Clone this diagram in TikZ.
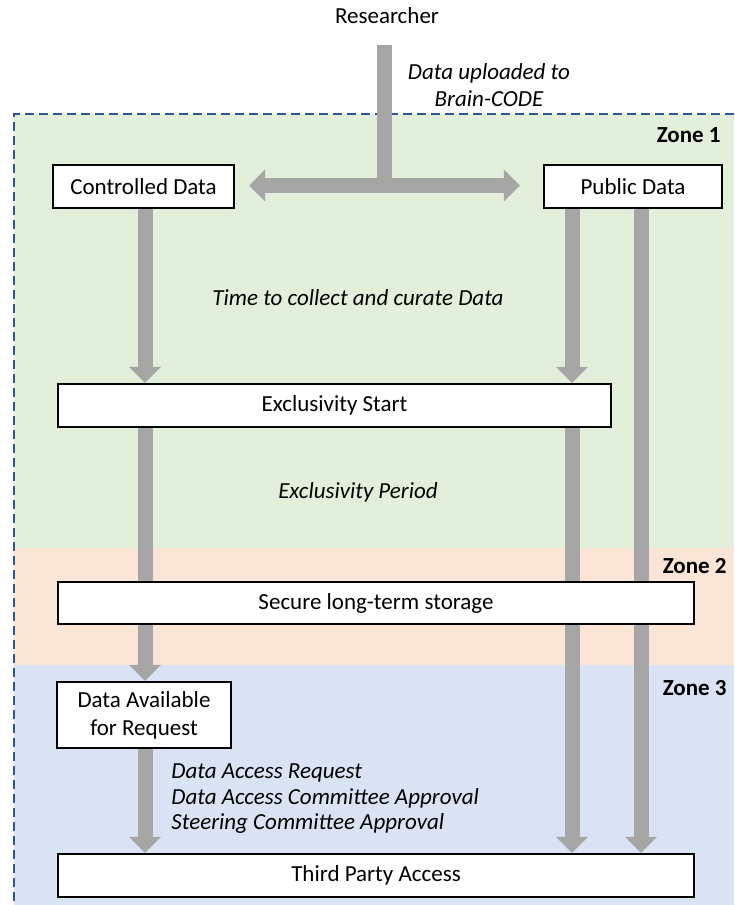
\documentclass[tikz,border=0pt]{standalone}
\usepackage{fontspec}
\setmainfont{Carlito}
\usepackage{xcolor}
\usepackage{tikz}
\usetikzlibrary{arrows.meta}

\definecolor{zoneone}{HTML}{E2EFDA}
\definecolor{zonetwo}{HTML}{FBE5D6}
\definecolor{zonethree}{HTML}{DAE3F3}
\definecolor{arrowgray}{HTML}{A6A6A6}
\definecolor{zoneborder}{HTML}{2F5597}
\newcommand{\diagsize}{\fontsize{11.5}{12.75}\selectfont}
\pgfdeclarelayer{back}
\pgfsetlayers{back,main}

\begin{document}
\begin{tikzpicture}[x=0.5pt, y=-0.5pt,
    every node/.style = {font=\diagsize},
    box/.style = {draw, line width=1.2pt, fill=white, inner sep=0pt, align=center},
    note/.style = {font=\diagsize\itshape, align=center, inner sep=0pt},
    zone/.style = {font=\diagsize\bfseries, anchor=east, inner sep=0pt},
    shaft/.style = {draw=arrowgray, line width=7.5pt},
    pipe/.style = {shaft, -{Triangle[width=15.5pt,length=8pt]}}]
    \useasboundingbox (0,0) rectangle (734,905);

    % boxes
    \node (res) at (387,16) {Researcher};
    \node[box, minimum width=90.5pt, minimum height=21.5pt] (ctrl) at (143.5,186.5) {Controlled Data};
    \node[box, minimum width=89pt, minimum height=21.5pt] (pub) at (633,186.5) {Public Data};
    \node[box, minimum width=276.5pt, minimum height=21.5pt] (excl) at (334.5,405.5) {Exclusivity Start};
    \node[box, minimum width=318pt, minimum height=21pt] (secure) at (376,603) {Secure long-term storage};
    \node[box, minimum width=87pt, minimum height=33pt] (avail) at (144,715)
      {Data Available\\[1.2pt]for Request};
    \node[box, minimum width=318pt, minimum height=21.5pt] (third) at (376,875.5) {Third Party Access};

    % notes and zone labels
    \node[note] (upload) at (489,85) {Data uploaded to\\[0.5pt]Brain-CODE};
    \node[note] (curate) at (358,298) {Time to collect and curate Data};
    \node[note] (period) at (358,492) {Exclusivity Period};
    \node[note, align=left, anchor=west] (approval) at (171,799)
      {Data Access Request\\Data Access Committee Approval\\Steering Committee Approval};
    \node[zone] (zone1) at (721,135) {Zone 1};
    \node[zone] (zone2) at (727,566) {Zone 2};
    \node[zone] (zone3) at (727,688) {Zone 3};

    \coordinate (lane0) at (145,0);
    \coordinate (lane1) at (572,0);
    \coordinate (lane2) at (641,0);
    \coordinate (start) at (384.5,45);
    \coordinate (split) at (384.5,185.5);

    \begin{pgfonlayer}{back}
      % zones
      \fill[zoneone] (14,114) rectangle (734,548);
      \fill[zonetwo] (14,548) rectangle (734,665);
      \fill[zonethree] (14,665) rectangle (734,905);
      \draw[zoneborder, line width=1.3pt, dash pattern=on 4.5pt off 2.5pt] (734,114) -- (14,114) -- (14,905);
      % arrows
      \draw[shaft] (start) -- ([yshift=-3.75pt]split);
      \draw[pipe, shorten >=7pt] (split) -- (split -| ctrl.east);
      \draw[pipe, shorten >=11.5pt] (split) -- (split -| pub.west);
      \draw[pipe] (lane0 |- ctrl.south) -- (lane0 |- excl.north);
      \draw[pipe] (lane1 |- pub.south) -- (lane1 |- excl.north);
      \draw[pipe] (lane2 |- pub.south) -- (lane2 |- third.north);
      \draw[pipe] (lane0 |- excl.south) -- (lane0 |- avail.north);
      \draw[pipe] (lane1 |- excl.south) -- (lane1 |- third.north);
      \draw[pipe] (lane0 |- avail.south) -- (lane0 |- third.north);
    \end{pgfonlayer}
\end{tikzpicture}
\end{document}
